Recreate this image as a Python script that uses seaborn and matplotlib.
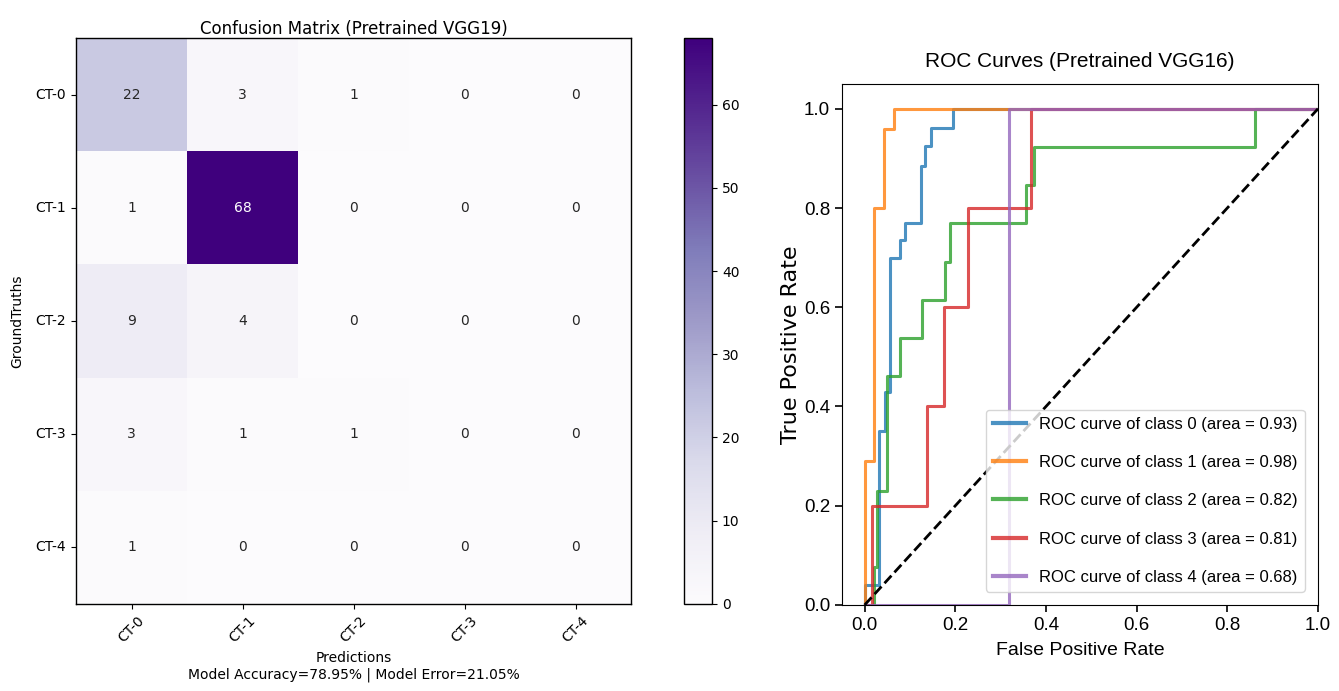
import matplotlib
matplotlib.use("Agg")
import matplotlib.pyplot as plt
import numpy as np
import pandas as pd
import seaborn as sns

# confusion matrix data
CLASSES = ["CT-0", "CT-1", "CT-2", "CT-3", "CT-4"]
CM = [
    [22, 3, 1, 0, 0],
    [1, 68, 0, 0, 0],
    [9, 4, 0, 0, 0],
    [3, 1, 1, 0, 0],
    [1, 0, 0, 0, 0],
]
ACCURACY = 78.95
ERROR = 21.05

# roc curve corners
FPR_0 = [0.0, 0.0, 0.032, 0.032, 0.045, 0.045, 0.057, 0.057, 0.077, 0.077, 0.09, 0.09, 0.125, 0.125, 0.134, 0.134, 0.146, 0.146, 0.194, 0.194, 1.0]
TPR_0 = [0.0, 0.04, 0.04, 0.35, 0.35, 0.43, 0.43, 0.70, 0.70, 0.735, 0.735, 0.77, 0.77, 0.885, 0.885, 0.925, 0.925, 0.962, 0.962, 1.0, 1.0]
FPR_1 = [0.0, 0.0, 0.02, 0.02, 0.042, 0.042, 0.064, 0.064, 1.0]
TPR_1 = [0.0, 0.29, 0.29, 0.80, 0.80, 0.96, 0.96, 1.0, 1.0]
FPR_2 = [0.0, 0.02, 0.02, 0.027, 0.027, 0.049, 0.049, 0.077, 0.077, 0.127, 0.127, 0.178, 0.178, 0.188, 0.188, 0.356, 0.356, 0.374, 0.374, 0.861, 0.861, 1.0]
TPR_2 = [0.0, 0.0, 0.077, 0.077, 0.23, 0.23, 0.462, 0.462, 0.538, 0.538, 0.615, 0.615, 0.692, 0.692, 0.769, 0.769, 0.846, 0.846, 0.923, 0.923, 1.0, 1.0]
FPR_3 = [0.0, 0.017, 0.017, 0.137, 0.137, 0.175, 0.175, 0.227, 0.227, 0.366, 0.366, 1.0]
TPR_3 = [0.0, 0.0, 0.2, 0.2, 0.4, 0.4, 0.6, 0.6, 0.8, 0.8, 1.0, 1.0]
FPR_4 = [0.0, 0.319, 0.319, 1.0]
TPR_4 = [0.0, 0.0, 1.0, 1.0]
AUC = [0.93, 0.98, 0.82, 0.81, 0.68]

FPRS = [FPR_0, FPR_1, FPR_2, FPR_3, FPR_4]
TPRS = [TPR_0, TPR_1, TPR_2, TPR_3, TPR_4]

fig = plt.figure(figsize=(13.39, 6.91), dpi=100)

# ---- left: confusion matrix
ax_cm = fig.add_axes([0.0568, 0.126, 0.4145, 0.819])
ax_cb = fig.add_axes([0.511, 0.126, 0.0209, 0.819])
cm_df = pd.DataFrame(CM, index=CLASSES, columns=CLASSES)
sns.heatmap(cm_df, annot=True, fmt="d", cmap="Purples", vmin=0, vmax=68,
            ax=ax_cm, cbar_ax=ax_cb, annot_kws={"fontsize": 10})
for s in ax_cm.spines.values():
    s.set_visible(True)
    s.set_linewidth(1.0)
ax_cm.collections[0].colorbar.outline.set_linewidth(1.0)
ax_cb.tick_params(labelsize=10)
ax_cm.set_xticklabels(CLASSES, rotation=45, fontsize=10)
ax_cm.set_yticklabels(CLASSES, rotation=0, fontsize=10)
ax_cm.set_title("Confusion Matrix (Pretrained VGG19)", fontsize=12, pad=2)
ax_cm.set_ylabel("GroundTruths", fontsize=10, labelpad=8)
ax_cm.set_xlabel(f"Predictions\nModel Accuracy={ACCURACY:.2f}% | Model Error={ERROR:.2f}%", fontsize=10)

# ---- right: roc curves
narrow = ["Liberation Sans", "DejaVu Sans"]
ax_roc = fig.add_axes([0.6288, 0.1245, 0.3555, 0.754])
palette = sns.color_palette("tab10")
for i in range(len(FPRS)):
    d = pd.DataFrame({"fpr": FPRS[i], "tpr": TPRS[i]})
    sns.lineplot(data=d, x="fpr", y="tpr", sort=False, estimator=None, ax=ax_roc,
                 color=palette[i], lw=2.2, alpha=0.8,
                 label=f"ROC curve of class {i} (area = {AUC[i]:.2f})")
sns.lineplot(x=[0, 1], y=[0, 1], color="black", linestyle="--", lw=2, ax=ax_roc)
ax_roc.set_xlim(-0.05, 1.0)
ax_roc.set_ylim(0.0, 1.05)
ax_roc.set_xlabel("False Positive Rate", fontsize=14, family=narrow, labelpad=6)
ax_roc.set_ylabel("True Positive Rate", fontsize=16, labelpad=2)
ax_roc.set_title("ROC Curves (Pretrained VGG16)", fontsize=15, family=narrow, pad=12)
for lab in ax_roc.get_xticklabels() + ax_roc.get_yticklabels():
    lab.set_fontfamily(narrow)
    lab.set_fontsize(13.5)
ax_roc.tick_params(length=5, width=1.2)
leg = ax_roc.legend(loc="lower right", prop={"family": narrow, "size": 12},
                    labelspacing=1.4, handlelength=2.0, borderaxespad=0.8)
for h in leg.get_lines():
    h.set_linewidth(3)

fig.savefig("out.png", dpi=100)
